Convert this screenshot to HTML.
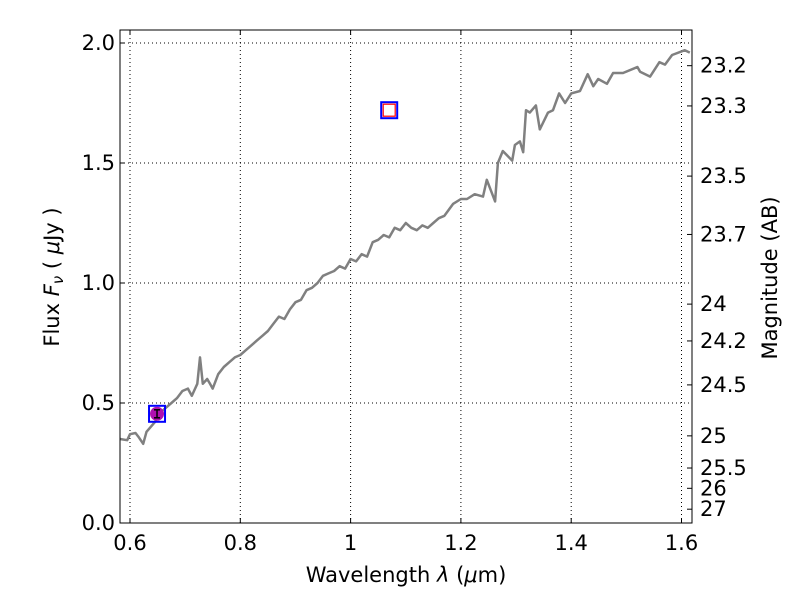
<!DOCTYPE html>
<html><head><meta charset="utf-8"><style>
body{margin:0;background:#fff;}
svg text{font-family:"DejaVu Sans","Liberation Sans",sans-serif;font-size:21px;fill:#000;}
</style></head><body>
<svg id="chart" width="800" height="600" xmlns="http://www.w3.org/2000/svg"></svg>
<script>
const wavelengths=[0.582,0.595,0.600,0.610,0.615,0.624,0.630,0.645,0.655,0.665,0.675,0.685,0.695,0.705,0.712,0.718,0.722,0.727,0.732,0.740,0.745,0.750,0.760,0.770,0.780,0.790,0.800,0.810,0.820,0.830,0.840,0.850,0.860,0.870,0.880,0.890,0.900,0.910,0.920,0.930,0.940,0.950,0.960,0.970,0.980,0.990,1.000,1.010,1.020,1.030,1.040,1.050,1.060,1.070,1.080,1.090,1.100,1.110,1.120,1.130,1.140,1.150,1.160,1.170,1.186,1.200,1.211,1.225,1.240,1.247,1.262,1.267,1.276,1.293,1.298,1.307,1.313,1.318,1.325,1.336,1.343,1.358,1.367,1.378,1.389,1.400,1.416,1.430,1.440,1.449,1.465,1.476,1.494,1.520,1.525,1.543,1.560,1.570,1.583,1.606,1.615];
const fluxValues=[0.35,0.345,0.37,0.375,0.36,0.33,0.38,0.42,0.46,0.48,0.50,0.52,0.55,0.56,0.53,0.56,0.58,0.69,0.58,0.60,0.58,0.56,0.62,0.65,0.67,0.69,0.70,0.72,0.74,0.76,0.78,0.80,0.83,0.86,0.85,0.89,0.92,0.93,0.97,0.98,1.00,1.03,1.04,1.05,1.07,1.06,1.10,1.09,1.12,1.11,1.17,1.18,1.20,1.19,1.23,1.22,1.25,1.23,1.22,1.24,1.23,1.25,1.27,1.28,1.33,1.35,1.35,1.37,1.36,1.43,1.34,1.50,1.55,1.51,1.575,1.59,1.545,1.72,1.71,1.74,1.64,1.71,1.72,1.79,1.75,1.79,1.80,1.87,1.82,1.85,1.83,1.875,1.875,1.90,1.88,1.86,1.92,1.91,1.95,1.97,1.96];
const photWave=[0.649,1.07];
const photFlux=[0.455,1.72];
const xTicks=[0.6,0.8,1.0,1.2,1.4,1.6];
const xTickLabels=["0.6","0.8","1","1.2","1.4","1.6"];
const yTicks=[0,0.5,1.0,1.5,2.0];
const yTickLabels=["0.0","0.5","1.0","1.5","2.0"];
const magTicks=[23.2,23.3,23.5,23.7,24,24.2,24.5,25,25.5,26,27];

const L=120,R=692,T=30,B=523;
const X=v=>130+(v-0.6)*551.5;
const Y=v=>523-v*240;
const svg=document.getElementById('chart');
const NS='http://www.w3.org/2000/svg';
function mk(tag,attrs,parent){const e=document.createElementNS(NS,tag);for(const k in attrs)e.setAttribute(k,attrs[k]);(parent||svg).appendChild(e);return e;}

xTicks.forEach((t,i)=>{
 const g=mk('line',{x1:X(t),x2:X(t),y1:T,y2:B,stroke:'#000','stroke-dasharray':'1,3','stroke-width':1});
 
 
 mk('line',{x1:X(t),x2:X(t),y1:B,y2:B-5,stroke:'#000'});
 mk('line',{x1:X(t),x2:X(t),y1:T,y2:T+5,stroke:'#000'});
 const tx=mk('text',{x:X(t),y:B+27,'text-anchor':'middle'});tx.textContent=xTickLabels[i];
 
 
});
yTicks.forEach((t,i)=>{
 const g=mk('line',{x1:L,x2:R,y1:Y(t),y2:Y(t),stroke:'#000','stroke-dasharray':'1,3','stroke-width':1});
 
 
 mk('line',{x1:L,x2:L+5,y1:Y(t),y2:Y(t),stroke:'#000'});
 const tx=mk('text',{x:L-5,y:Y(t)+7,'text-anchor':'end'});tx.textContent=yTickLabels[i];
 
 
});
magTicks.forEach(m=>{
 const f=Math.pow(10,(23.9-m)/2.5);
 const y=Y(f);
 mk('line',{x1:R,x2:R-5,y1:y,y2:y,stroke:'#000'});
 const tx=mk('text',{x:R+8,y:y+7});tx.textContent=String(m);
 
 
});

const pts=wavelengths.map((w,i)=>X(w).toFixed(1)+','+Y(fluxValues[i]).toFixed(1)).join(' ');
const line=mk('polyline',{points:pts,fill:'none',stroke:'#808080','stroke-width':2.5,'stroke-linejoin':'round'});



photWave.forEach((w,i)=>{
 const cx=X(w),cy=Y(photFlux[i]);
 const sq=mk('rect',{x:cx-8,y:cy-8,width:16,height:16,fill:'none',stroke:'#00f','stroke-width':2});
 
 
 if(i===0){
  const c=mk('circle',{cx:cx,cy:cy,r:7,fill:'#b010b0'});
  
  
  mk('line',{x1:cx,x2:cx,y1:cy-4,y2:cy+4,stroke:'#000','stroke-width':1.5});
  mk('line',{x1:cx-3,x2:cx+3,y1:cy-4,y2:cy-4,stroke:'#000','stroke-width':1.5});
  mk('line',{x1:cx-3,x2:cx+3,y1:cy+4,y2:cy+4,stroke:'#000','stroke-width':1.5});
 } else {
  const r=mk('rect',{x:cx-6,y:cy-6,width:12,height:12,fill:'none',stroke:'#f00','stroke-width':1.2});
  
  
 }
});

const fr=mk('rect',{x:L,y:T,width:R-L,height:B-T,fill:'none',stroke:'#000','stroke-width':1});



const xt=mk('text',{x:406,y:582,'text-anchor':'middle'});
xt.innerHTML='Wavelength  <tspan font-style="italic">λ</tspan> (<tspan font-style="italic">μ</tspan>m)';


const yt=mk('text',{x:0,y:0,'text-anchor':'middle',transform:'translate(59,277) rotate(-90)'});
yt.innerHTML='Flux  <tspan font-style="italic">F</tspan><tspan font-style="italic" font-size="15" dy="4">ν</tspan><tspan dy="-4">  ( </tspan><tspan font-style="italic">μ</tspan>Jy )';


const rt=mk('text',{x:0,y:0,'text-anchor':'middle',transform:'translate(777,278) rotate(-90)'});
rt.textContent='Magnitude (AB)';


</script>
</body></html>
